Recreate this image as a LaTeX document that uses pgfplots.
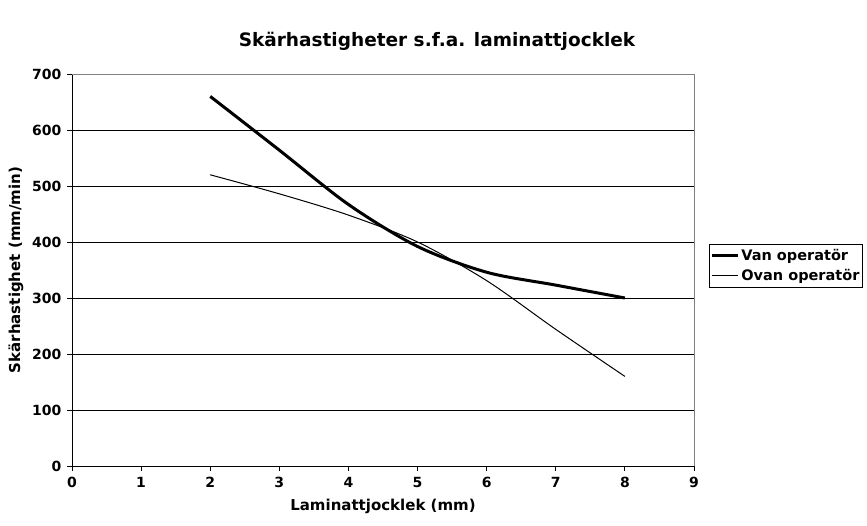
\documentclass[border=0pt]{standalone}
\usepackage{pgfplots}
\pgfplotsset{compat=1.18}
\usepackage{fontspec}
\setmainfont{DejaVu Sans}

\begin{document}
\begin{tikzpicture}[x=1pt,y=1pt]
\useasboundingbox (0,0) rectangle (867,525);
\begin{axis}[
  at={(72pt,59pt)}, anchor=south west,
  scale only axis, width=622pt, height=392pt,
  xmin=0, xmax=9, ymin=0, ymax=700,
  xtick={0,1,...,9}, ytick={0,100,...,700},
  axis lines*=left, axis line style={-, black, line width=0.9pt},
  tick align=outside, major tick length=5pt,
  tick style={black, line width=0.9pt},
  ymajorgrids, major grid style={black, line width=0.8pt},
  /pgf/number format/assume math mode=true,
  tick label style={font=\bfseries\fontsize{14}{16}\selectfont},
  xticklabel style={yshift=-3pt},
  yticklabel style={xshift=-2pt},
  xlabel={Laminattjocklek (mm)},
  ylabel={Skärhastighet (mm/min)},
  label style={font=\bfseries\fontsize{15}{17}\selectfont},
  xlabel style={yshift=-4pt},
  ylabel style={yshift=2pt},
  legend style={at={(1.024,0.566)}, anchor=north west, draw=black, line width=0.9pt,
    font=\bfseries\fontsize{14.5}{16}\selectfont, inner xsep=1pt, inner ysep=3pt,
    row sep=3pt},
  legend cell align=left,
  legend image code/.code={\draw[#1] (0pt,0pt) -- (26pt,0pt);},
  clip=false,
]
% plot-area frame: top and right edges in grey
\draw[gray, line width=0.9pt] (rel axis cs:0,1) -- (rel axis cs:1,1) -- (rel axis cs:1,0);
\addplot[black, line width=3pt, smooth, tension=0.5] coordinates {
  (2,660) (3,564) (4,467) (5,392) (6,346) (7,323) (8,300)
};
\addlegendentry{Van operatör}
\addplot[black, line width=1pt, smooth, tension=0.5] coordinates {
  (2,520) (3,486) (4,448) (5,400) (6,331) (7,244) (8,160)
};
\addlegendentry{Ovan operatör}
\end{axis}
\node[font=\bfseries\fontsize{18.5}{21}\selectfont] at (437,484) {Skärhastigheter s.f.a. laminattjocklek};
\end{tikzpicture}
\end{document}
